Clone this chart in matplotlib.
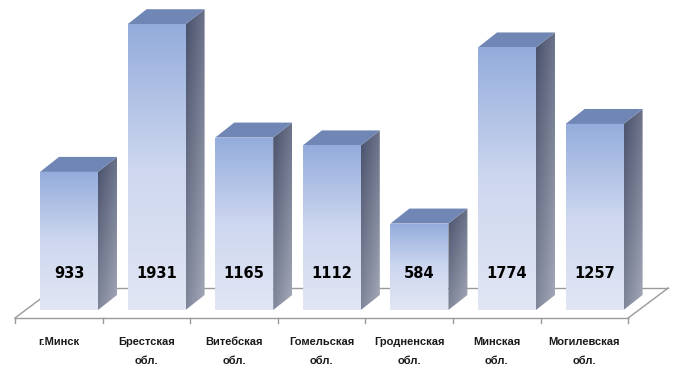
import numpy as np
import matplotlib
matplotlib.use("Agg")
import matplotlib.pyplot as plt
from matplotlib.patches import Polygon, Rectangle
from matplotlib.colors import LinearSegmentedColormap

categories = ["г.Минск", "Брестская\nобл.", "Витебская\nобл.", "Гомельская\nобл.",
              "Гродненская\nобл.", "Минская\nобл.", "Могилевская\nобл."]
values = [933, 1931, 1165, 1112, 584, 1774, 1257]

W, H = 675, 382
fig = plt.figure(figsize=(W / 100, H / 100), dpi=100)
ax = fig.add_axes([0, 0, 1, 1])

px_x = 87.6          # pixels per category
px_v = 0.148         # pixels per value unit
x_left_px = 15
base_px = 310
ax.axis("off")

n = len(values)
# floor
fdx, fdy = 40 / px_x, 30 / px_v
f0 = -8 / px_v
floor_col = "#9a9a9a"
ax.plot([0, n], [f0, f0], color=floor_col, lw=1, zorder=1)
ax.plot([n, n + fdx], [f0, f0 + fdy], color=floor_col, lw=1, zorder=1)
ax.plot([fdx, n + fdx], [f0 + fdy, f0 + fdy], color=floor_col, lw=1, zorder=1)
ax.plot([0, fdx], [f0, f0 + fdy], color=floor_col, lw=1, zorder=1)
for i in range(n + 1):
    ax.plot([i, i], [f0, f0 - 5 / px_v], color=floor_col, lw=1, zorder=1)

front_cmap = LinearSegmentedColormap.from_list("front", ["#e2e6f4", "#cdd7ef", "#94acdc"])
grad = np.linspace(0, 1, 256).reshape(-1, 1)

gy = np.linspace(0, 1, 128).reshape(-1, 1)
gx = np.linspace(0, 1, 32).reshape(1, -1)
dark = np.array([62, 70, 98]) / 255
light = np.array([165, 170, 185]) / 255
t = 0.55 * gy + 0.35 * (1 - gx)
t = np.clip(t, 0, 1)[..., None]
side_img = light * (1 - t) + dark * t

bw = 58 / px_x
boff = 25 / px_x
bdx, bdy = 19 / px_x, 15 / px_v

for i, v in enumerate(values):
    x0 = i + boff
    x1 = x0 + bw
    side = Polygon([(x1, 0), (x1 + bdx, bdy), (x1 + bdx, v + bdy), (x1, v)],
                   closed=True, facecolor="none", edgecolor="none", zorder=3)
    ax.add_patch(side)
    im = ax.imshow(side_img, extent=[x1, x1 + bdx, 0, v + bdy],
                   origin="lower", aspect="auto", zorder=3)
    im.set_clip_path(side)
    top = Polygon([(x0, v), (x1, v), (x1 + bdx, v + bdy), (x0 + bdx, v + bdy)],
                  closed=True, facecolor="#7087b6", edgecolor="none", zorder=4)
    ax.add_patch(top)
    front = Rectangle((x0, 0), bw, v, facecolor="none", edgecolor="none", zorder=4)
    ax.add_patch(front)
    im2 = ax.imshow(grad, cmap=front_cmap, extent=[x0, x1, 0, v],
                    origin="lower", aspect="auto", zorder=4)
    im2.set_clip_path(front)
    ax.text((x0 + x1) / 2, 37 / px_v, str(v), ha="center", va="center",
            fontsize=10.5, fontweight="bold", family="DejaVu Sans", color="black", zorder=6)

for i, c in enumerate(categories):
    ax.text(i + 0.5, -27 / px_v, c, ha="center", va="top", fontsize=8,
            fontweight="bold", family="Liberation Sans", color="#1a1a1a",
            linespacing=2.15, zorder=6)

ax.set_xlim(-x_left_px / px_x, (W - x_left_px) / px_x)
ax.set_ylim((base_px - H) / px_v, base_px / px_v)
fig.savefig("out.png", dpi=100)
